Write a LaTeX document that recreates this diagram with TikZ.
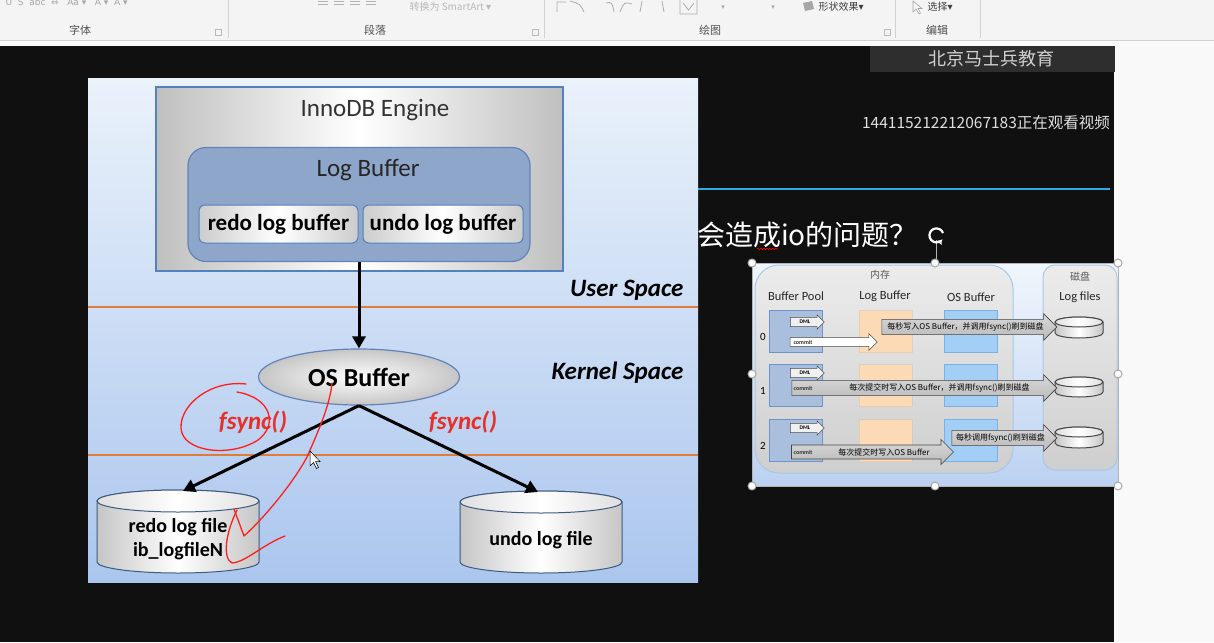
\documentclass[tikz,border=0pt]{standalone}
\usepackage{fontspec}
\setmainfont{Carlito}
\newfontfamily\cjk{Noto Sans CJK SC}
\newfontfamily\sym{DejaVu Sans}
\usetikzlibrary{shapes.geometric,shapes.arrows,arrows.meta,positioning,decorations.pathmorphing}
\definecolor{ribbonbg}{HTML}{F4F4F4}
\definecolor{ribbontxt}{HTML}{505050}
\definecolor{slidebg}{HTML}{101010}
\definecolor{paneltop}{HTML}{EAF2FB}
\definecolor{panelbot}{HTML}{ABC6EE}
\definecolor{edgeblue}{HTML}{5581BD}
\definecolor{logfill}{HTML}{8EA6CA}
\definecolor{logedge}{HTML}{6283B8}
\definecolor{diskedge}{HTML}{3F5A80}
\definecolor{spaceline}{HTML}{DE7C3C}
\definecolor{fsyncred}{HTML}{E5312A}
\definecolor{penred}{HTML}{FF1E1E}
\definecolor{poolfill}{HTML}{A9BFDD}
\definecolor{pooledge}{HTML}{6F93C6}
\definecolor{peach}{HTML}{FDDAB6}
\definecolor{osfill}{HTML}{A3CEF5}
\definecolor{osedge}{HTML}{7DB0E2}
\definecolor{memedge}{HTML}{A7C8E8}
\definecolor{titleline}{HTML}{2FA8E6}
% cylinder: x, top, bottom, x radius, y radius, edge colour
\newcommand\drawdisk[6]{%
  \path[draw=#6, line width=1pt, left color=gray!45, right color=gray!45, middle color=white]
    (#1-#4,#3-#5) arc[start angle=180, end angle=360, x radius=#4pt, y radius=#5pt]
    -- (#1+#4,#2+#5) arc[start angle=0, end angle=180, x radius=#4pt, y radius=#5pt] -- cycle;
  \path[draw=#6, line width=1pt, left color=gray!25, right color=gray!25, middle color=white]
    (#1,#2+#5) ellipse[x radius=#4pt, y radius=#5pt];
}

\begin{document}
\begin{tikzpicture}[x=1pt,y=-1pt,
    ribbonlbl/.style={font=\cjk\fontsize{11}{12}\selectfont, text=ribbontxt},
    flow/.style={line width=3pt, -{Triangle[length=12pt,width=13pt]}},
    pen/.style={penred, line width=1.3pt, line cap=round, line join=round},
    bufbox/.style={draw=edgeblue, line width=1pt, rounded corners=6pt, left color=gray!40, right color=gray!40, middle color=white,
        minimum height=38pt, inner sep=0pt, font=\bfseries\fontsize{23}{26}\selectfont},
    filelbl/.style={align=center, font=\bfseries\fontsize{20}{24}\selectfont},
    cell/.style={draw, line width=0.8pt, minimum width=53pt, minimum height=42pt, inner sep=0pt},
    dml/.style={single arrow, draw=gray!60!black, line width=0.5pt, fill=gray!12, single arrow head extend=2.5pt,
        single arrow head indent=0pt, minimum height=34pt, inner sep=2.5pt, font=\bfseries\fontsize{5.5}{6}\selectfont},
    bigarrow/.style={single arrow, draw=gray!55!black, line width=0.6pt, top color=gray!30, bottom color=gray!55,
        single arrow head extend=5.5pt, single arrow head indent=0pt, inner sep=3pt,
        font=\cjk\fontsize{8}{9}\selectfont},
    tinylbl/.style={font=\bfseries\fontsize{6}{7}\selectfont, text=black!80},
    hdr/.style={font=\fontsize{12.5}{14}\selectfont, text=black!85},
    handle/.style={circle, draw=gray!70, line width=1pt, fill=white, minimum size=8pt, inner sep=0pt}]
\useasboundingbox (0,0) rectangle (1214,642);

% ribbon
\fill[ribbonbg] (0,0) rectangle (1214,40);
\fill[gray!4] (0,40) rectangle (1214,46);
\draw[gray!35] (0,40) -- (1214,40);
\foreach \x in {228,544,895,980} \draw[gray!35] (\x,0) -- (\x,38);
\foreach \x in {218,535,887} \draw[gray!55,line width=0.5pt] (\x-3,29) rectangle (\x+3,35);
\node[ribbonlbl] (grpfont) at (80,30) {字体};
\node[ribbonlbl] (grppara) at (375,30) {段落};
\node[ribbonlbl] (grpdraw) at (710,30) {绘图};
\node[ribbonlbl] (grpedit) at (937,30) {编辑};
\node[font=\sym\fontsize{9}{10}\selectfont, text=gray!70, anchor=west] (fonticons) at (2,2) {U\ \ S\ \ abc\ \ ⇔\ \ \ Aa ▾\ \ \ A ▾\ \ A ▾};
\foreach \x in {318,334,350,366} \draw[gray!60,line width=0.8pt] (\x,1) -- (\x+10,1) (\x,4) -- (\x+10,4);
\node[font=\cjk\fontsize{10}{11}\selectfont, text=gray!55, anchor=west] (smartart) at (406,7) {转换为 SmartArt \sym▾};
\draw[gray!65,line width=0.8pt] (557,12) -- (557,2) -- (566,2) (570,1) .. controls (580,4) .. (584,12) (606,3) .. controls (612,2) .. (614,12)
    (620,12) .. controls (624,2) .. (632,4) (642,1) -- (640,12) (662,1) -- (664,12);
\draw[gray!65,line width=0.8pt] (680,0) -- (680,14) -- (697,14) -- (697,0) (683,3) -- (688.5,10) -- (694,3);
\node[font=\sym\fontsize{7}{8}\selectfont, text=gray!70] (drop1) at (723,8) {▾};
\node[font=\sym\fontsize{7}{8}\selectfont, text=gray!70] (drop2) at (773,8) {▾};
\fill[gray!70] (803,3) -- (812,1) -- (814,9) -- (805,11) -- cycle;
\node[font=\cjk\fontsize{10}{11}\selectfont, text=black!75, anchor=west] (shapefx) at (815,7) {形状效果\sym▾};
\draw[gray!70,line width=0.6pt] (913,1) -- (913,12) -- (916,9) -- (919,14) -- (920.5,13) -- (918,8.5) -- (922,8.5) -- cycle;
\node[font=\cjk\fontsize{10}{11}\selectfont, text=black!75, anchor=west] (selectbtn) at (924,7) {选择\sym▾};

% slide area
\fill[slidebg] (0,46) rectangle (1114,642);
\fill[gray!5] (1114,46) rectangle (1214,642);
\draw[titleline, line width=1.5pt] (698,189) -- (1110,189);

% left diagram
\shade[top color=paneltop, bottom color=panelbot] (88,78) rectangle (698,582);
\draw[spaceline, line width=1.8pt] (88,307) -- (698,307);
\draw[spaceline, line width=1.8pt] (88,455) -- (698,455);
\node[draw=edgeblue, line width=1.5pt, left color=gray!50, right color=gray!50, middle color=white,
    minimum width=407pt, minimum height=184pt] (engine) at (359.5,179) {};
\node[font=\fontsize{25}{28}\selectfont, text=black!80] (enginetitle) at (375,110) {InnoDB Engine};
\node[draw=logedge, line width=1.2pt, fill=logfill, rounded corners=18pt,
    minimum width=342pt, minimum height=114pt] (logbuf) at (359,204.5) {};
\node[font=\fontsize{25}{28}\selectfont, text=black!85] (logtitle) at (368,170) {Log Buffer};
\node[bufbox, minimum width=159pt] (redobuf) at (278.5,224) {redo log buffer};
\node[bufbox, minimum width=160pt] (undobuf) at (443,224) {undo log buffer};
\node[font=\bfseries\itshape\fontsize{25}{28}\selectfont, anchor=east] (userspace) at (687,290) {User Space};
\node[font=\bfseries\itshape\fontsize{25}{28}\selectfont, anchor=east] (kernelspace) at (687,373) {Kernel Space};
\node[ellipse, draw=logedge, line width=1.2pt, inner color=white, outer color=gray!45,
    minimum width=201pt, minimum height=56pt, inner sep=0pt, font=\bfseries\fontsize{26}{28}\selectfont] (osbuf) at (359,377) {OS Buffer};
\drawdisk{178}{490}{573}{81}{11}{diskedge}
\drawdisk{541}{491}{573}{81}{11}{diskedge}
\coordinate (redotop) at (183,491);
\coordinate (undotop) at (538,492);
\node[filelbl] (redolbl) at (178,539.5) {redo log file\\ib\_logfileN};
\node[filelbl] (undolbl) at (541,540) {undo log file};
\draw[flow] (logbuf.south) -- (osbuf.north);
\draw[flow] (osbuf.south) -- (redotop);
\draw[flow] (osbuf.south) -- (undotop);
\node[font=\bfseries\itshape\fontsize{25}{28}\selectfont, text=fsyncred] (fsyncl) at (253,422) {fsync()};
\node[font=\bfseries\itshape\fontsize{25}{28}\selectfont, text=fsyncred] (fsyncr) at (463,422) {fsync()};

% hand-drawn marks
\draw[pen] (246,384) .. controls (210,380) and (180,405) .. (181,428) .. controls (182,452) and (230,458) .. (258,440)
    .. controls (278,425) and (272,398) .. (237,392);
\draw[pen] (234,509) -- (244,536) .. controls (262,520) and (292,485) .. (307,457) .. controls (318,432) and (330,405) .. (332,383);
\draw[pen] (237,510) .. controls (226,532) and (222,558) .. (232,563) .. controls (246,562) and (262,545) .. (285,536);
\fill[white, draw=black, line width=0.5pt] (310,451) -- (310,466) -- (313.5,462.5) -- (316.5,468.5) -- (318.5,467.5) -- (315.5,461.5) -- (320,461.5) -- cycle;

% watermark
\fill[black!82] (870,46) rectangle (1115,72);
\node[font=\cjk\fontsize{18}{20}\selectfont, text=gray!35] (school) at (991,59) {北京马士兵教育};
\node[font=\cjk\fontsize{15.5}{17}\selectfont, text=gray!25] (viewer) at (986,123) {144115212212067183正在观看视频};

% slide title and selected picture
\node[font=\cjk\fontsize{28}{30}\selectfont, text=white, anchor=west, inner sep=0pt] (slidetitle) at (697,235) {会造成io的问题？};
\draw[red, line width=0.6pt, decorate, decoration={snake, amplitude=0.8pt, segment length=3pt}] (757,249) -- (778,249);
\shade[top color=paneltop!70!white, bottom color=panelbot!80!white] (752,263) rectangle (1118,486);
\draw[gray!60, line width=0.6pt] (752,263) rectangle (1118,486);
\node[draw=memedge, line width=1pt, top color=gray!15, bottom color=gray!38, rounded corners=24pt,
    minimum width=258pt, minimum height=208pt] (memory) at (884,369) {};
\node[draw=memedge, line width=1pt, top color=gray!15, bottom color=gray!38, rounded corners=12pt,
    minimum width=74pt, minimum height=205pt] (disk) at (1080,367.5) {};
\node[font=\cjk\fontsize{10}{11}\selectfont, text=gray!70!black] (memlbl) at (880,275) {内存};
\node[font=\cjk\fontsize{10}{11}\selectfont, text=gray!70!black] (disklbl) at (1080,277) {磁盘};
\node[hdr] (poolhdr) at (796,296) {Buffer Pool};
\node[hdr] (loghdr) at (885,296) {Log Buffer};
\node[hdr] (oshdr) at (971,297) {OS Buffer};
\node[hdr] (fileshdr) at (1080,297) {Log files};
\foreach \r/\y/\dy/\ft/\fb in {0/331.5/322/317/338, 1/385.5/373/377/397, 2/440.5/428/427/448} {
    \node[cell, draw=pooledge, fill=poolfill] (pool\r) at (796,\y) {};
    \node[cell, draw=peach!85!black, fill=peach, draw opacity=0.4] (lbuf\r) at (885.5,\y) {};
    \node[cell, draw=osedge, fill=osfill] (osb\r) at (971,\y) {};
    \node[dml] (dml\r) at (805,\dy) {DML};
    \drawdisk{1079}{\ft}{\fb}{24}{5}{gray!55!black}
    \node[font=\fontsize{11}{12}\selectfont] (num\r) at (763,\y+5) {\r};
}
\node[single arrow, draw=gray!60!black, line width=0.5pt, fill=white, single arrow head extend=4pt, single arrow head indent=0pt,
    minimum height=87pt, inner sep=2pt, text width=76pt, tinylbl] (commit0) at (831.5,342) {commit};
\node[bigarrow, minimum height=175pt] (flush0) at (965.5,327) {每秒写入OS Buffer，并调用fsync()刷到磁盘};
\node[bigarrow, minimum height=265pt] (flush1) at (920.5,388) {\hspace{38pt}每次提交时写入OS Buffer，并调用fsync()刷到磁盘};
\node[bigarrow, minimum height=162pt] (write2) at (869,452) {\hspace{30pt}每次提交时写入OS Buffer};
\node[bigarrow, minimum height=105pt] (flush2) at (1000.5,438) {每秒调用fsync()刷到磁盘};
\node[tinylbl, anchor=west] (commit1) at (790,388) {commit};
\node[tinylbl, anchor=west] (commit2) at (790,452) {commit};

% selection handles
\coordinate (rothandle) at (936,230);
\draw[gray!60, line width=0.7pt] (936,240) -- (936,263);
\draw[white, line width=2.2pt, -{Triangle[length=4pt,width=6pt]}] (943,233) arc[start angle=20, end angle=320, radius=7pt];
\foreach \hx/\hy [count=\i] in {752/263, 935/263, 1118/263, 752/374, 1118/374, 752/486, 935/486, 1118/486}
    \node[handle] (h\i) at (\hx,\hy) {};
\end{tikzpicture}
\end{document}
